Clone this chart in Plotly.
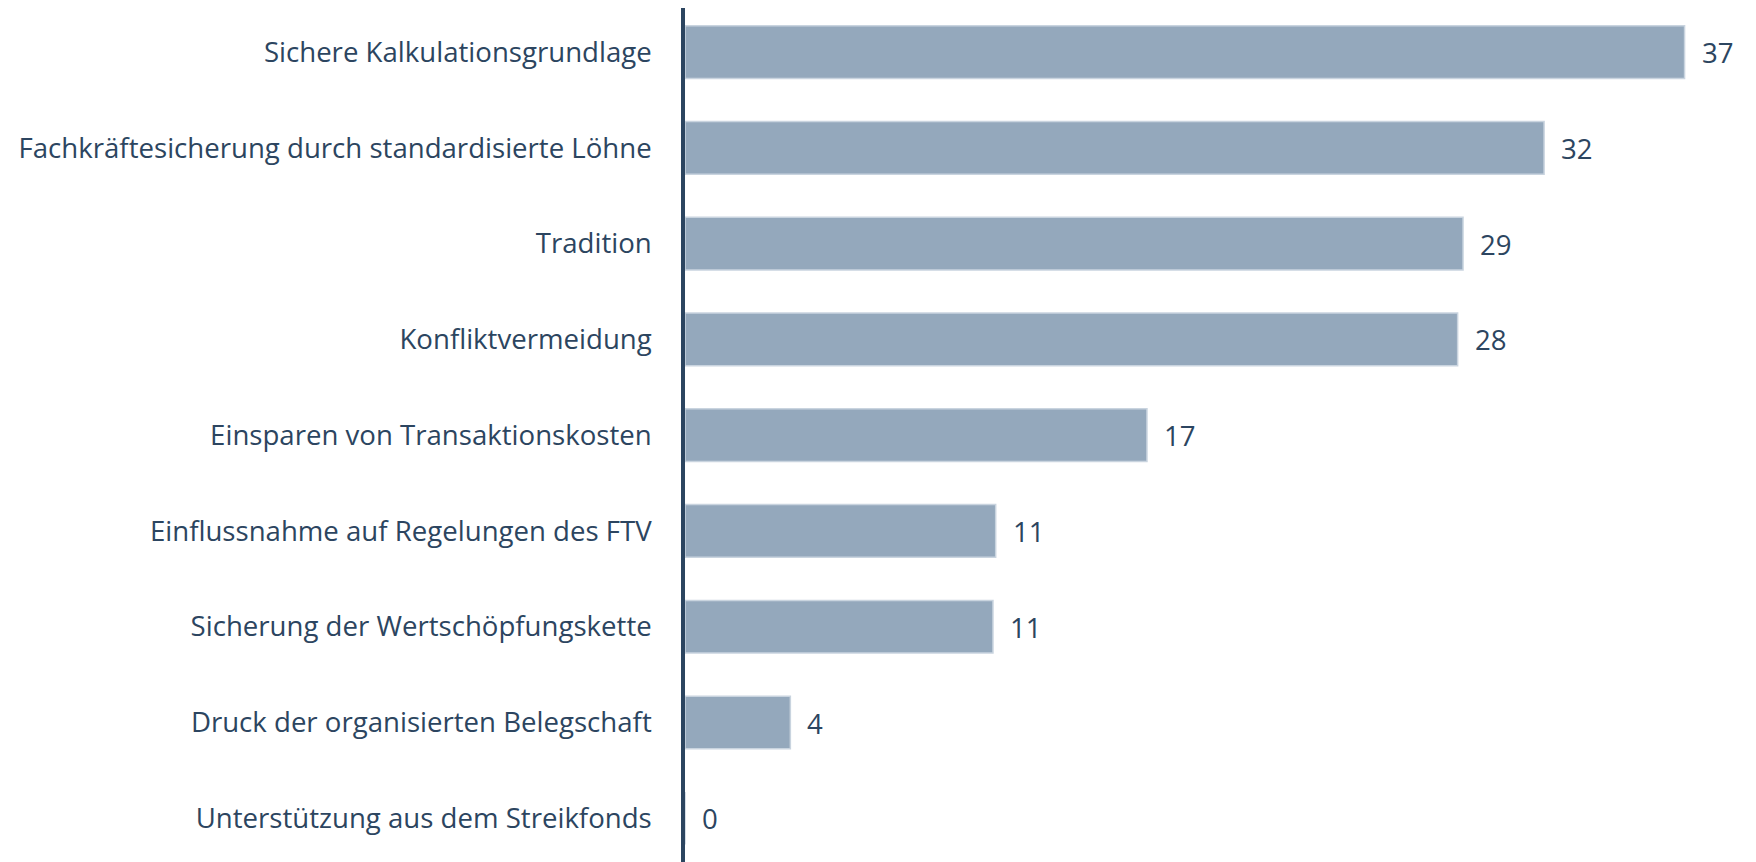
import plotly.graph_objects as go

categories = [
    "Sichere Kalkulationsgrundlage",
    "Fachkräftesicherung durch standardisierte Löhne",
    "Tradition",
    "Konfliktvermeidung",
    "Einsparen von Transaktionskosten",
    "Einflussnahme auf Regelungen des FTV",
    "Sicherung der Wertschöpfungskette",
    "Druck der organisierten Belegschaft",
    "Unterstützung aus dem Streikfonds",
]
values = [37.0, 31.8, 28.8, 28.6, 17.1, 11.5, 11.4, 3.9, 0.0]
value_labels = ["37", "32", "29", "28", "17", "11", "11", "4", "0"]

BAR = "#94A8BC"
NAVY = "#2C4560"
FONT = "Open Sans"
FS = 27.6

fig = go.Figure()
fig.add_trace(go.Bar(
    x=values, y=categories, orientation="h",
    marker=dict(color=BAR, line=dict(color="#C9D4DF", width=1.5)),
    width=0.55, hoverinfo="skip",
))

for v, c, t in zip(values, categories, value_labels):
    fig.add_annotation(x=v, y=c, text=t, xanchor="left", yanchor="middle",
                       xshift=15, showarrow=False,
                       font=dict(family=FONT, size=FS, color=NAVY))

fig.update_layout(
    width=1756, height=862,
    margin=dict(l=677, r=20, t=0, b=0),
    paper_bgcolor="white", plot_bgcolor="white",
    showlegend=False,
    font=dict(family=FONT, size=FS, color=NAVY),
)
fig.update_xaxes(range=[0, 39.2], showgrid=False, zeroline=False,
                 showticklabels=False, showline=False)
fig.update_yaxes(type="category", categoryorder="array", categoryarray=categories,
                 range=[8.54, -0.46], showgrid=False, zeroline=False,
                 showline=True, linewidth=3.5, linecolor=NAVY,
                 ticks="", ticklabelstandoff=24,
                 tickfont=dict(family=FONT, size=FS, color=NAVY))

fig.write_html("out.html")
